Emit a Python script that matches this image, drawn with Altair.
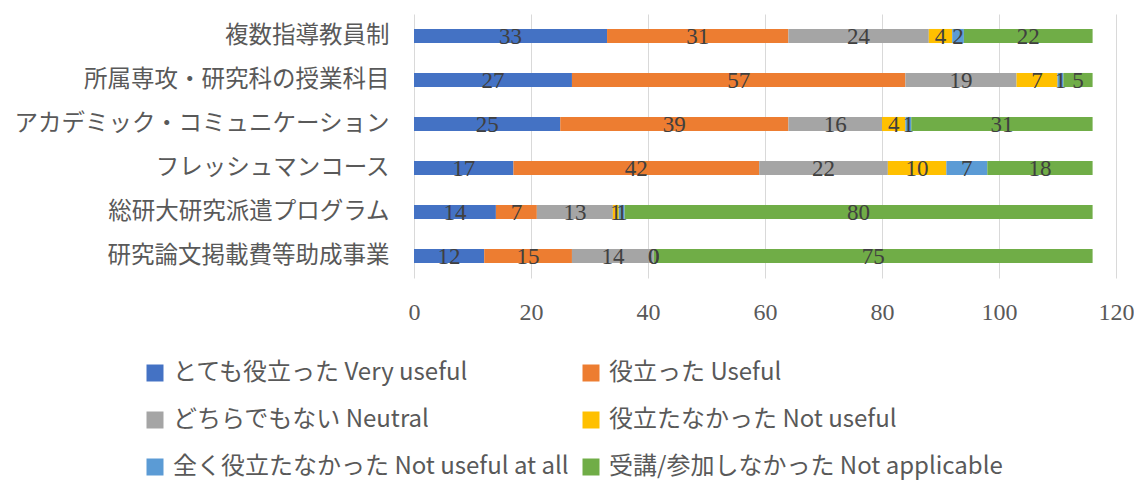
import altair as alt
import pandas as pd

categories = [
    "複数指導教員制",
    "所属専攻・研究科の授業科目",
    "アカデミック・コミュニケーション",
    "フレッシュマンコース",
    "総研大研究派遣プログラム",
    "研究論文掲載費等助成事業",
]
series = [
    "とても役立った Very useful",
    "役立った Useful",
    "どちらでもない Neutral",
    "役立たなかった Not useful",
    "全く役立たなかった Not useful at all",
    "受講/参加しなかった Not applicable",
]
colors = ["#4472C4", "#ED7D31", "#A5A5A5", "#FFC000", "#5B9BD5", "#70AD47"]

very_useful = [33, 27, 25, 17, 14, 12]
useful = [31, 57, 39, 42, 7, 15]
neutral = [24, 19, 16, 22, 13, 14]
not_useful = [4, 7, 4, 10, 1, 0]
not_useful_at_all = [2, 1, 1, 7, 1, 0]
not_applicable = [22, 5, 31, 18, 80, 75]

tick_values = [0, 20, 40, 60, 80, 100, 120]

values = [very_useful, useful, neutral, not_useful, not_useful_at_all, not_applicable]

rows = []
for si, (s, vals) in enumerate(zip(series, values)):
    for ci, c in enumerate(categories):
        rows.append({"category": c, "series": s, "order": si, "value": vals[ci]})
df = pd.DataFrame(rows)

y_enc = alt.Y(
    "category:N",
    sort=categories,
    scale=alt.Scale(paddingInner=0.68, paddingOuter=0.34),
    axis=alt.Axis(
        title=None, domain=False, ticks=False, labelPadding=25,
        labelFont="Noto Sans CJK JP", labelFontSize=23.5, labelColor="#595959",
        labelLimit=600,
    ),
)

bars = alt.Chart(df).mark_bar().encode(
    x=alt.X(
        "value:Q", stack="zero",
        scale=alt.Scale(domain=[0, 120], nice=False),
        axis=alt.Axis(
            title=None, values=tick_values, domain=False, ticks=False,
            grid=True, gridColor="#D9D9D9", gridWidth=1,
            labelFont="Liberation Serif", labelFontSize=24, labelColor="#595959",
            labelPadding=22, labelFlush=False,
        ),
    ),
    y=y_enc,
    color=alt.Color(
        "series:N",
        sort=series,
        scale=alt.Scale(domain=series, range=colors),
        legend=alt.Legend(
            title=None, orient="none", legendX=-271, legendY=347,
            columns=2, direction="horizontal", columnPadding=10, rowPadding=23,
            symbolType="square", symbolSize=289, symbolStrokeWidth=0,
            labelFont="Noto Sans CJK JP", labelFontSize=24, labelColor="#595959",
            labelOffset=6, labelLimit=600, padding=0,
        ),
    ),
    order=alt.Order("order:Q"),
)

labels = alt.Chart(df).transform_window(
    cum="sum(value)", groupby=["category"], sort=[alt.SortField("order")],
    frame=[None, 0],
).transform_calculate(
    mid="datum.cum - datum.value / 2"
).mark_text(
    font="Liberation Serif", fontSize=23, color="#404040", baseline="middle", align="center", dy=1,
).encode(
    x=alt.X("mid:Q"),
    y=alt.Y("category:N", sort=categories),
    text=alt.Text("value:Q"),
)

chart = alt.layer(bars, labels).properties(
    width=702, height=264,
    padding={"left": 406, "top": 6, "right": 18, "bottom": 204},
    autosize=alt.AutoSizeParams(type="none"),
).configure_view(stroke=None)

chart.save("out.html", embed_options={"renderer": "svg", "actions": False})
